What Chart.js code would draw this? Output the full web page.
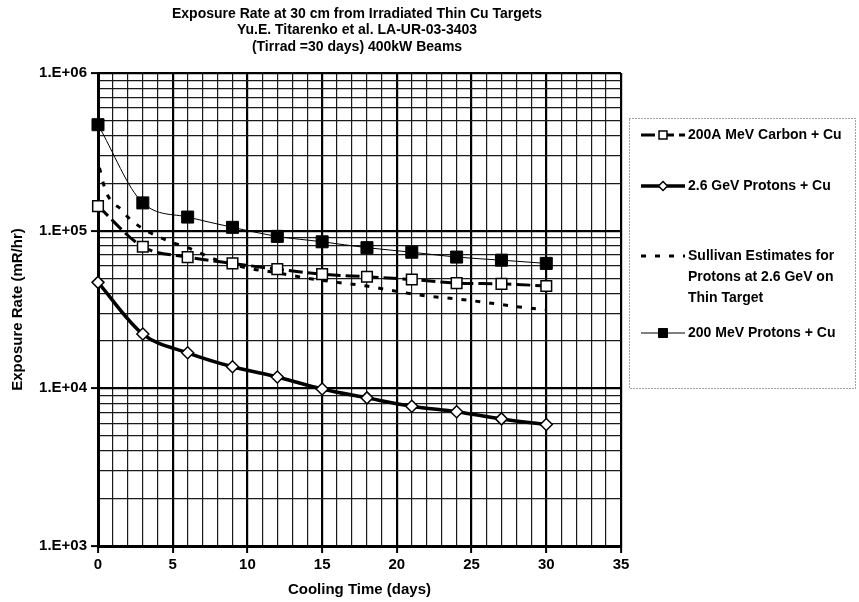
<!DOCTYPE html>
<html>
<head>
<meta charset="utf-8">
<script src="https://cdn.jsdelivr.net/npm/chart.js@4.4.0/dist/chart.umd.min.js"></script>
<style>
  html, body { margin: 0; padding: 0; background: #fff; }
  #wrap { width: 859px; height: 602px; }
</style>
</head>
<body>
<div id="wrap"><canvas id="myChart" width="859" height="602"></canvas></div>
<script>
// valores
const days = [0, 3, 6, 9, 12, 15, 18, 21, 24, 27, 30];
const carbonRate = [143000, 79000, 68000, 62000, 57000, 53000, 51000, 49000, 46500, 46000, 44600];
const gevRate = [47000, 22100, 16800, 13700, 11800, 9900, 8700, 7700, 7100, 6400, 5900];
const mevRate = [470000, 150000, 122000, 105000, 92000, 85000, 78000, 73000, 68000, 65000, 62000];
const sullivanDays = [0.1, 0.5, 1, 1.5, 2, 3, 4, 5, 6, 8, 10, 12, 14, 16, 18, 20, 22, 24, 26, 28, 30];
const sullivanRate = [250000, 180000, 150000, 138000, 122000, 103000, 92000, 84000, 78000, 65000, 58000, 54000, 50000, 47000, 44500, 41200, 38500, 36900, 35000, 33000, 31500];

const seriesLabels = [
  "200A MeV Carbon + Cu",
  "2.6 GeV Protons + Cu",
  "Sullivan Estimates for\nProtons at 2.6 GeV on\nThin Target",
  "200 MeV Protons + Cu",
];
const titleLines = [
  "Exposure Rate at 30 cm from Irradiated Thin Cu Targets",
  "Yu.E. Titarenko et al. LA-UR-03-3403",
  "(Tirrad =30 days) 400kW Beams",
];
const decades = [1e3, 1e4, 1e5];
const yMax = 1e6;

const FONT = "'Liberation Sans', Arial, sans-serif";

function puntos(xs, ys) {
  return xs.map((x, i) => ({ x: x, y: ys[i] }));
}

function esDecada(v) {
  const l = Math.log10(v);
  return Math.abs(l - Math.round(l)) < 1e-9;
}

function ticksY() {
  const t = [];
  decades.forEach((d) => {
    for (let m = 1; m <= 9; m++) t.push({ value: d * m });
  });
  t.push({ value: yMax });
  return t;
}

const leyenda = {
  id: "leyenda",
  afterDraw(chart) {
    const ctx = chart.ctx;
    const filas = [135, 186, 256, 333];
    ctx.save();
    ctx.setLineDash([1, 2]);
    ctx.strokeStyle = "#444";
    ctx.lineWidth = 1;
    ctx.strokeRect(629.5, 118.5, 226, 270);

    chart.data.datasets.forEach((ds, i) => {
      const y = filas[i];
      ctx.setLineDash(ds.borderDash || []);
      ctx.lineWidth = ds.borderWidth;
      ctx.strokeStyle = ds.borderColor;
      ctx.beginPath();
      ctx.moveTo(641, y);
      ctx.lineTo(685, y);
      ctx.stroke();
      ctx.setLineDash([]);
      if (ds.pointRadius > 0) {
        ctx.fillStyle = ds.pointBackgroundColor;
        ctx.strokeStyle = ds.pointBorderColor;
        ctx.lineWidth = ds.pointBorderWidth;
        Chart.helpers.drawPoint(ctx, {
          pointStyle: ds.pointStyle,
          radius: ds.pointRadius * 0.75,
          rotation: 0,
          borderWidth: ds.pointBorderWidth,
        }, 663, y);
      }
      ctx.fillStyle = "#000";
      ctx.font = "bold 14px " + FONT;
      ctx.textBaseline = "middle";
      ctx.textAlign = "left";
      ds.label.split("\n").forEach((line, k) => {
        ctx.fillText(line, 688, y + k * 21);
      });
    });

    ctx.font = "bold 14px " + FONT;
    ctx.textAlign = "center";
    ctx.textBaseline = "middle";
    titleLines.forEach((line, k) => {
      ctx.fillText(line, 357, 14 + k * 16.5);
    });
    ctx.restore();
  },
};

function dibujarGrafica() {
  const ctx = document.getElementById("myChart").getContext("2d");
  new Chart(ctx, {
    type: "line",
    data: {
      datasets: [
        {
          label: seriesLabels[0],
          data: puntos(days, carbonRate),
          borderColor: "#000",
          borderWidth: 3,
          borderDash: [14, 5],
          pointStyle: "rect",
          pointRadius: 7.5,
          pointBackgroundColor: "#fff",
          pointBorderColor: "#000",
          pointBorderWidth: 1.5,
          cubicInterpolationMode: "monotone",
          clip: false,
        },
        {
          label: seriesLabels[1],
          data: puntos(days, gevRate),
          borderColor: "#000",
          borderWidth: 3.5,
          pointStyle: "rectRot",
          pointRadius: 6,
          pointBackgroundColor: "#fff",
          pointBorderColor: "#000",
          pointBorderWidth: 1.5,
          cubicInterpolationMode: "monotone",
          clip: false,
        },
        {
          label: seriesLabels[2],
          data: puntos(sullivanDays, sullivanRate),
          borderColor: "#000",
          borderWidth: 3,
          borderDash: [5, 9],
          pointRadius: 0,
          cubicInterpolationMode: "monotone",
          clip: false,
        },
        {
          label: seriesLabels[3],
          data: puntos(days, mevRate),
          borderColor: "#000",
          borderWidth: 1,
          pointStyle: "rect",
          pointRadius: 8.5,
          pointBackgroundColor: "#000",
          pointBorderColor: "#000",
          pointBorderWidth: 1,
          cubicInterpolationMode: "monotone",
          clip: false,
        },
      ],
    },
    options: {
      responsive: false,
      animation: false,
      layout: { padding: { top: 73, right: 238, left: 0, bottom: 0 } },
      plugins: {
        legend: { display: false },
        title: { display: false },
        tooltip: { enabled: false },
      },
      scales: {
        x: {
          type: "linear",
          min: 0,
          max: 35,
          afterFit: (s) => { s.height = 56; },
          ticks: {
            stepSize: 1,
            autoSkip: false,
            maxRotation: 0,
            color: "#000",
            padding: 3,
            font: { family: FONT, size: 15, weight: "bold" },
            callback: (v) => (v % 5 === 0 ? String(v) : ""),
          },
          grid: {
            color: (c) => (c.tick && c.tick.value % 5 === 0 ? "#000" : "#1a1a1a"),
            lineWidth: (c) => (c.tick && c.tick.value % 5 === 0 ? 2.2 : 1.2),
            tickColor: (c) => (c.tick && c.tick.value % 5 === 0 ? "#000" : "rgba(0,0,0,0)"),
            tickLength: 7,
            tickWidth: 2,
          },
          border: { color: "#000", width: 3 },
          title: {
            display: true,
            text: "Cooling Time (days)",
            color: "#000",
            font: { family: FONT, size: 15, weight: "bold" },
            padding: { top: 0, bottom: 3 },
          },
        },
        y: {
          type: "logarithmic",
          min: 1000,
          max: yMax,
          afterFit: (s) => { s.width = 98; },
          afterBuildTicks: (s) => { s.ticks = ticksY(); },
          ticks: {
            autoSkip: false,
            color: "#000",
            padding: 4,
            font: { family: FONT, size: 15, weight: "bold" },
            callback: (v) => (esDecada(v) ? "1.E+0" + Math.round(Math.log10(v)) : ""),
          },
          grid: {
            color: (c) => (c.tick && esDecada(c.tick.value) ? "#000" : "#1a1a1a"),
            lineWidth: (c) => (c.tick && esDecada(c.tick.value) ? 2.2 : 1.2),
            tickColor: (c) => (c.tick && esDecada(c.tick.value) ? "#000" : "rgba(0,0,0,0)"),
            tickLength: 7,
            tickWidth: 2,
          },
          border: { color: "#000", width: 3 },
          title: {
            display: true,
            text: "Exposure Rate (mR/hr)",
            color: "#000",
            font: { family: FONT, size: 15, weight: "bold" },
            padding: { top: 9, bottom: 0 },
          },
        },
      },
    },
    plugins: [leyenda],
  });
}

dibujarGrafica();
</script>
</body>
</html>
